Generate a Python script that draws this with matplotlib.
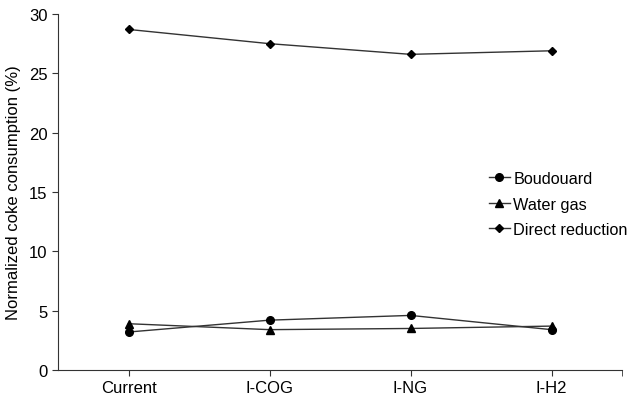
import numpy as np
import matplotlib.pyplot as plt

plt.rcParams['font.family'] = ['Liberation Sans', 'DejaVu Sans']

categories = ['Current', 'I-COG', 'I-NG', 'I-H2']
boudouard = [3.2, 4.2, 4.6, 3.4]
water_gas = [3.9, 3.4, 3.5, 3.7]
direct_reduction = [28.7, 27.5, 26.6, 26.9]

x = np.arange(len(categories))

fig = plt.figure(figsize=(6.3, 4.02), dpi=100)
ax = fig.add_axes([58/630, 31/402, 564/630, 356/402])

ax.plot(x, boudouard, color='#333333', lw=1, marker='o', ms=5.5,
        mfc='black', mec='black', label='Boudouard')
ax.plot(x, water_gas, color='#333333', lw=1, marker='^', ms=5.5,
        mfc='black', mec='black', label='Water gas')
ax.plot(x, direct_reduction, color='#333333', lw=1, marker='D', ms=4,
        mfc='black', mec='black', label='Direct reduction')

ax.set_xlim(-0.5, 3.5)
ax.set_ylim(0, 30)
ax.set_xticks(x)
ax.set_xticklabels(categories, fontsize=12)
ax.set_xticks([3.5], minor=True)
ax.set_yticks(np.arange(0, 31, 5))
ax.tick_params(axis='y', labelsize=12, direction='out', length=4, color='#333333')
ax.tick_params(axis='x', which='both', direction='out', length=4, color='#333333')
ax.set_ylabel('Normalized coke consumption (%)', fontsize=12, labelpad=6)

for side in ['top', 'right']:
    ax.spines[side].set_visible(False)
for side in ['left', 'bottom']:
    ax.spines[side].set_color('#333333')
    ax.spines[side].set_linewidth(0.8)

ax.legend(loc='upper left', bbox_to_anchor=(0.738, 0.6), frameon=False,
          fontsize=11.7, handlelength=1.3, handletextpad=0.2, labelspacing=0.65)

fig.savefig('out.png', dpi=100)
